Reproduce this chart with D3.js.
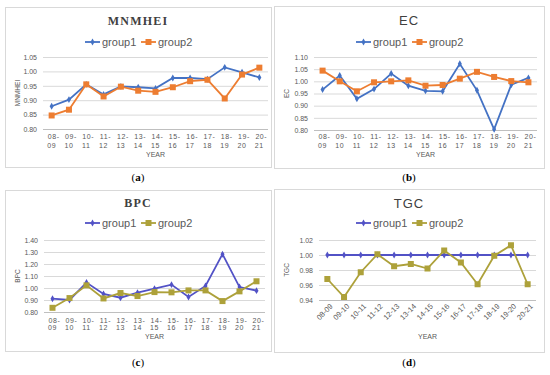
<!DOCTYPE html>
<html>
<head>
<meta charset="utf-8">
<script src="https://cdn.jsdelivr.net/npm/d3@7"></script>
<style>
  body { margin: 0; background: #fff; }
  svg { display: block; }
</style>
</head>
<body>
<svg width="550" height="375"></svg>
<script>
// годы по оси OX
const years = ["08-09","09-10","10-11","11-12","12-13","13-14","14-15","15-16","16-17","17-18","18-19","19-20","20-21"];

const mnmheiG1 = [0.879,0.902,0.955,0.920,0.948,0.945,0.941,0.977,0.977,0.973,1.014,0.997,0.979];
const mnmheiG2 = [0.847,0.867,0.955,0.913,0.947,0.933,0.929,0.945,0.966,0.971,0.906,0.989,1.013];

const ecG1 = [0.966,1.024,0.928,0.968,1.032,0.982,0.961,0.959,1.072,0.963,0.803,0.986,1.014];
const ecG2 = [1.044,1.000,0.959,0.996,1.000,1.004,0.982,0.985,1.011,1.039,1.018,1.001,0.996];

const bpcG1 = [0.911,0.900,1.045,0.950,0.919,0.961,0.994,1.028,0.925,1.017,1.282,1.008,0.978];
const bpcG2 = [0.835,0.916,1.022,0.913,0.958,0.933,0.966,0.964,0.980,0.980,0.891,0.972,1.056];

const tgcG1 = [1.000,1.000,1.000,1.000,1.000,1.000,1.000,1.000,1.000,1.000,1.000,1.000,1.000];
const tgcG2 = [0.968,0.944,0.977,1.001,0.985,0.988,0.982,1.006,0.990,0.961,0.999,1.013,0.961];

const mnmheiTicks = [0.80,0.85,0.90,0.95,1.00,1.05];
const ecTicks = [0.80,0.85,0.90,0.95,1.00,1.05,1.10];
const bpcTicks = [0.80,0.90,1.00,1.10,1.20,1.30,1.40];
const tgcTicks = [0.94,0.96,0.98,1.00,1.02];

const seriesNames = ["group1", "group2"];

let svg = d3.select("svg");

// настройки панелей
const panels = [
  {title: "MNMHEI", serif: true, g1: mnmheiG1, g2: mnmheiG2, ticks: mnmheiTicks,
   box: [5, 7, 271, 167], area: {left: 43, right: 268, top: 57, bottom: 129},
   titleY: 21, legendY: 42, xl1: 137, xl2: 146, yearY: 155, ytitleX: 18,
   colors: ["#4472C4", "#ED7D31"], rotate: false, caption: "(a)", capY: 177},
  {title: "EC", serif: false, g1: ecG1, g2: ecG2, ticks: ecTicks,
   box: [274, 6, 544, 168], area: {left: 314, right: 537, top: 57, bottom: 130},
   titleY: 20, legendY: 42, xl1: 137, xl2: 146, yearY: 155, ytitleX: 287,
   colors: ["#4472C4", "#ED7D31"], rotate: false, caption: "(b)", capY: 177},
  {title: "BPC", serif: true, g1: bpcG1, g2: bpcG2, ticks: bpcTicks,
   box: [5, 190, 271, 351], area: {left: 44, right: 265, top: 240, bottom: 312},
   titleY: 203, legendY: 223, xl1: 321, xl2: 328, yearY: 337, ytitleX: 18,
   colors: ["#5252C6", "#ADA13A"], rotate: false, caption: "(c)", capY: 362},
  {title: "TGC", serif: false, g1: tgcG1, g2: tgcG2, ticks: tgcTicks,
   box: [274, 189, 544, 352], area: {left: 319, right: 536, top: 240, bottom: 300},
   titleY: 203, legendY: 223, xl1: 305, xl2: 0, yearY: 337, ytitleX: 287,
   colors: ["#5252C6", "#ADA13A"], rotate: true, caption: "(d)", capY: 362}
];

function drawPanel(p) {
  const [bx0, by0, bx1, by1] = p.box;
  const a = p.area;
  const cx = (bx0 + bx1) / 2;

  svg.append("rect")
    .attr("x", bx0 + 0.5).attr("y", by0 + 0.5)
    .attr("width", bx1 - bx0).attr("height", by1 - by0)
    .attr("fill", "#fff").attr("stroke", "#d9d9d9");

  const scX = d3.scaleBand().domain(years).range([a.left, a.right]);
  const scY = d3.scaleLinear()
    .domain([p.ticks[0], p.ticks[p.ticks.length - 1]])
    .range([a.bottom, a.top]);
  const px = d => scX(d) + scX.bandwidth() / 2;

  // сетка и подписи оси OY
  const axisY = d3.axisLeft(scY).tickValues(p.ticks)
    .tickSize(-(a.right - a.left)).tickFormat(d3.format(".2f")).tickPadding(6);
  const gy = svg.append("g").attr("transform", `translate(${a.left},0)`).call(axisY);
  gy.select(".domain").remove();
  gy.selectAll("line").attr("stroke", "#d9d9d9");
  gy.selectAll("text").attr("fill", "#595959").style("font", "7px 'Liberation Sans', sans-serif");

  // ось OX
  svg.append("line")
    .attr("x1", a.left).attr("x2", a.right)
    .attr("y1", a.bottom + 0.5).attr("y2", a.bottom + 0.5)
    .attr("stroke", "#bfbfbf");

  const xl = svg.append("g");
  if (p.rotate) {
    xl.selectAll("text").data(years).enter().append("text")
      .attr("transform", d => `translate(${px(d) + 4},${p.xl1}) rotate(-45)`)
      .attr("text-anchor", "end")
      .attr("dy", "0.35em")
      .attr("fill", "#595959")
      .style("font", "7.5px 'Liberation Sans', sans-serif")
      .text(d => d);
  } else {
    xl.selectAll("text.l1").data(years).enter().append("text")
      .attr("x", d => px(d) + 2).attr("y", p.xl1)
      .attr("text-anchor", "middle").attr("dy", "0.35em")
      .attr("fill", "#595959")
      .style("font", "7px 'Liberation Sans', sans-serif")
      .style("letter-spacing", "0.6px")
      .text(d => d.slice(0, 3));
    xl.selectAll("text.l2").data(years).enter().append("text")
      .attr("x", d => px(d)).attr("y", p.xl2)
      .attr("text-anchor", "middle").attr("dy", "0.35em")
      .attr("fill", "#595959")
      .style("font", "7px 'Liberation Sans', sans-serif")
      .style("letter-spacing", "0.6px")
      .text(d => d.slice(3));
  }

  // подписи осей
  svg.append("text")
    .attr("x", (a.left + a.right) / 2).attr("y", p.yearY).attr("dy", "0.35em")
    .attr("text-anchor", "middle").attr("fill", "#595959")
    .style("font", "7px 'Liberation Sans', sans-serif")
    .text("YEAR");
  svg.append("text")
    .attr("transform", `translate(${p.ytitleX},${(a.top + a.bottom) / 2}) rotate(-90)`)
    .attr("dy", "0.35em")
    .attr("text-anchor", "middle").attr("fill", "#595959")
    .style("font", "6.5px 'Liberation Sans', sans-serif")
    .text(p.title);

  // заголовок
  svg.append("text")
    .attr("x", cx).attr("y", p.titleY).attr("dy", "0.35em")
    .attr("text-anchor", "middle").attr("fill", "#404040")
    .style("font", p.serif ? "bold 12px 'Liberation Serif', serif" : "13px 'Liberation Sans', sans-serif")
    .style("letter-spacing", p.serif ? "1.2px" : "1px")
    .text(p.title);

  // линии
  [p.g1, p.g2].forEach((vals, i) => {
    const color = p.colors[i];
    const line = d3.line().x((d, j) => px(years[j])).y(d => scY(d));
    svg.append("path").datum(vals)
      .attr("d", line).attr("fill", "none")
      .attr("stroke", color).attr("stroke-width", 1.8);
    if (i == 0) {
      svg.selectAll(null).data(vals).enter().append("path")
        .attr("d", d3.symbol(d3.symbolDiamond, 14))
        .attr("transform", (d, j) => `translate(${px(years[j])},${scY(d)})`)
        .attr("fill", color);
    } else {
      svg.selectAll(null).data(vals).enter().append("rect")
        .attr("x", (d, j) => px(years[j]) - 3).attr("y", d => scY(d) - 3)
        .attr("width", 6).attr("height", 6)
        .attr("fill", color);
    }
  });

  // легенда
  const lg = svg.append("g");
  const items = [];
  let x = 0;
  seriesNames.forEach((name, i) => {
    items.push({name: name, x: x, color: p.colors[i], i: i});
    x += 15 + 2 + 33 + 6;
  });
  const total = x - 6;
  lg.attr("transform", `translate(${cx - total / 2},${p.legendY})`);
  items.forEach(it => {
    lg.append("line").attr("x1", it.x).attr("x2", it.x + 15)
      .attr("y1", 0).attr("y2", 0)
      .attr("stroke", it.color).attr("stroke-width", 1.8);
    if (it.i == 0) {
      lg.append("path").attr("d", d3.symbol(d3.symbolDiamond, 14))
        .attr("transform", `translate(${it.x + 7.5},0)`).attr("fill", it.color);
    } else {
      lg.append("rect").attr("x", it.x + 4.5).attr("y", -3)
        .attr("width", 6).attr("height", 6).attr("fill", it.color);
    }
    lg.append("text").attr("x", it.x + 17).attr("y", 0).attr("dy", "0.35em")
      .attr("fill", "#595959")
      .style("font", "11px 'Liberation Sans', sans-serif")
      .text(it.name);
  });

  // подпись панели
  svg.append("text")
    .attr("x", cx).attr("y", p.capY).attr("dy", "0.35em")
    .attr("text-anchor", "middle").attr("fill", "#000")
    .style("font", "11px 'Liberation Serif', serif")
    .html(p.caption.replace(/([a-d])/, "<tspan font-weight='bold'>$1</tspan>"));
}

panels.forEach(drawPanel);
</script>
</body>
</html>
